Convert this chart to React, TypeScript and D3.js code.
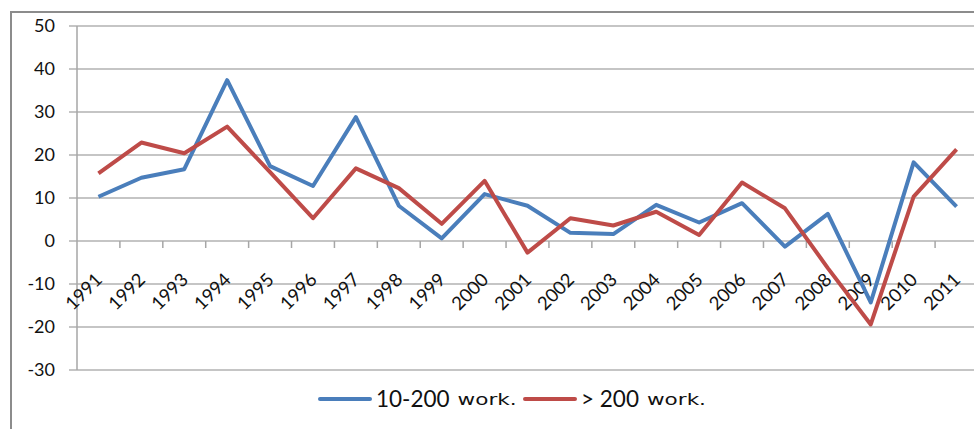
import React, { useEffect, useRef } from "react"
import * as d3 from "d3"

// tick labels / categories
const years = [
	"1991", "1992", "1993", "1994", "1995", "1996", "1997", "1998", "1999", "2000",
	"2001", "2002", "2003", "2004", "2005", "2006", "2007", "2008", "2009", "2010", "2011",
]
// 10-200 workers
const smallFirms = [
	10.3, 14.7, 16.7, 37.4, 17.4, 12.8, 28.8, 8.2, 0.6, 10.9,
	8.2, 1.9, 1.6, 8.4, 4.3, 8.8, -1.3, 6.3, -14.3, 18.3, 8.0,
]
// more than 200 workers
const largeFirms = [
	15.7, 22.9, 20.4, 26.6, 16.0, 5.3, 16.9, 12.3, 4.0, 14.0,
	-2.7, 5.3, 3.6, 6.8, 1.4, 13.6, 7.6, -6.3, -19.4, 10.3, 21.3,
]
const yTicks = [-30, -20, -10, 0, 10, 20, 30, 40, 50]
const seriesNames = ["10-200", "> 200"]
const legendSuffix = "work."
const colors = ["#4a7ebb", "#be4b48"]

const W = 974
const H = 429
const FONT = "Lato, 'Liberation Sans', sans-serif"

const LineChart = () => {
	const ref = useRef<SVGSVGElement>(null)

	useEffect(() => {
		const svg = d3.select(ref.current)
		svg.selectAll("*").remove()

		// plot area is wider than the picture: the right edge is cut off
		const x = d3.scaleBand().domain(years).range([77, 978])
		const y = d3.scaleLinear().domain([-30, 50]).range([370, 26])
		const cx = (yr: string) => (x(yr) as number) + x.bandwidth() / 2

		// outer frame (cropped at right and bottom)
		svg
			.append("rect")
			.attr("x", 11)
			.attr("y", 12)
			.attr("width", 1000)
			.attr("height", 500)
			.attr("fill", "#fff")
			.attr("stroke", "#8c8c8c")
			.attr("stroke-width", 2)

		// horizontal gridlines
		svg
			.append("g")
			.selectAll("line")
			.data(yTicks)
			.join("line")
			.attr("x1", 69)
			.attr("x2", W)
			.attr("y1", d => y(d))
			.attr("y2", d => y(d))
			.attr("stroke", "#b2b2b2")
			.attr("stroke-width", 1.5)

		// value axis
		svg
			.append("line")
			.attr("x1", 77)
			.attr("x2", 77)
			.attr("y1", y(50))
			.attr("y2", y(-30))
			.attr("stroke", "#a6a6a6")
			.attr("stroke-width", 1.5)

		svg
			.append("g")
			.selectAll("text")
			.data(yTicks)
			.join("text")
			.attr("x", 55)
			.attr("y", d => y(d))
			.attr("dy", "0.36em")
			.attr("text-anchor", "end")
			.style("font-family", FONT)
			.style("font-size", "18px")
			.attr("fill", "#111")
			.text(d => d)

		// category axis sits at 0, tick marks between categories
		svg
			.append("g")
			.selectAll("line")
			.data(years.slice(1))
			.join("line")
			.attr("x1", d => x(d) as number)
			.attr("x2", d => x(d) as number)
			.attr("y1", y(0))
			.attr("y2", y(0) + 7)
			.attr("stroke", "#a6a6a6")
			.attr("stroke-width", 1.5)

		svg
			.append("g")
			.selectAll("text")
			.data(years)
			.join("text")
			.attr("transform", d => `translate(${cx(d) + 5},${y(0) + 40}) rotate(-45)`)
			.attr("text-anchor", "end")
			.style("font-family", FONT)
			.style("font-size", "18.5px")
			.attr("fill", "#111")
			.text(d => d)

		// series lines
		const line = d3
			.line<number>()
			.x((_, i) => cx(years[i]))
			.y(d => y(d))

		svg
			.append("g")
			.selectAll("path")
			.data([smallFirms, largeFirms])
			.join("path")
			.attr("d", d => line(d))
			.attr("fill", "none")
			.attr("stroke", (_, i) => colors[i])
			.attr("stroke-width", 4)
			.attr("stroke-linejoin", "round")

		// legend
		const legendX = [320, 525]
		const legend = svg
			.append("g")
			.selectAll("g")
			.data(seriesNames)
			.join("g")
			.attr("transform", (_, i) => `translate(${legendX[i]},399)`)

		legend
			.append("line")
			.attr("x1", 0)
			.attr("x2", 50)
			.attr("stroke", (_, i) => colors[i])
			.attr("stroke-width", 4)
			.attr("stroke-linecap", "round")

		legend
			.append("text")
			.attr("x", 56)
			.attr("y", 8.3)
			.style("font-family", FONT)
			.style("font-size", "22.5px")
			.attr("fill", "#111")
			.text(d => d)
			.each(function (_, i, nodes) {
				// suffix in a wide, stretched face like the original
				const w = (this as SVGTextElement).getComputedTextLength()
				d3.select((nodes[i] as SVGTextElement).parentNode as SVGGElement)
					.append("text")
					.attr("x", 56 + w + 8)
					.attr("y", 5.5)
					.attr("textLength", 59)
					.attr("lengthAdjust", "spacingAndGlyphs")
					.style("font-family", "'DejaVu Sans', sans-serif")
					.style("font-size", "16px")
					.attr("fill", "#111")
					.text(legendSuffix)
			})
	}, [])

	return (
		<svg
			ref={ref}
			width={W}
			height={H}
			style={{ position: "fixed", left: 0, top: 0, background: "#fff" }}
		></svg>
	)
}

export default function App() {
	return <LineChart />
}
